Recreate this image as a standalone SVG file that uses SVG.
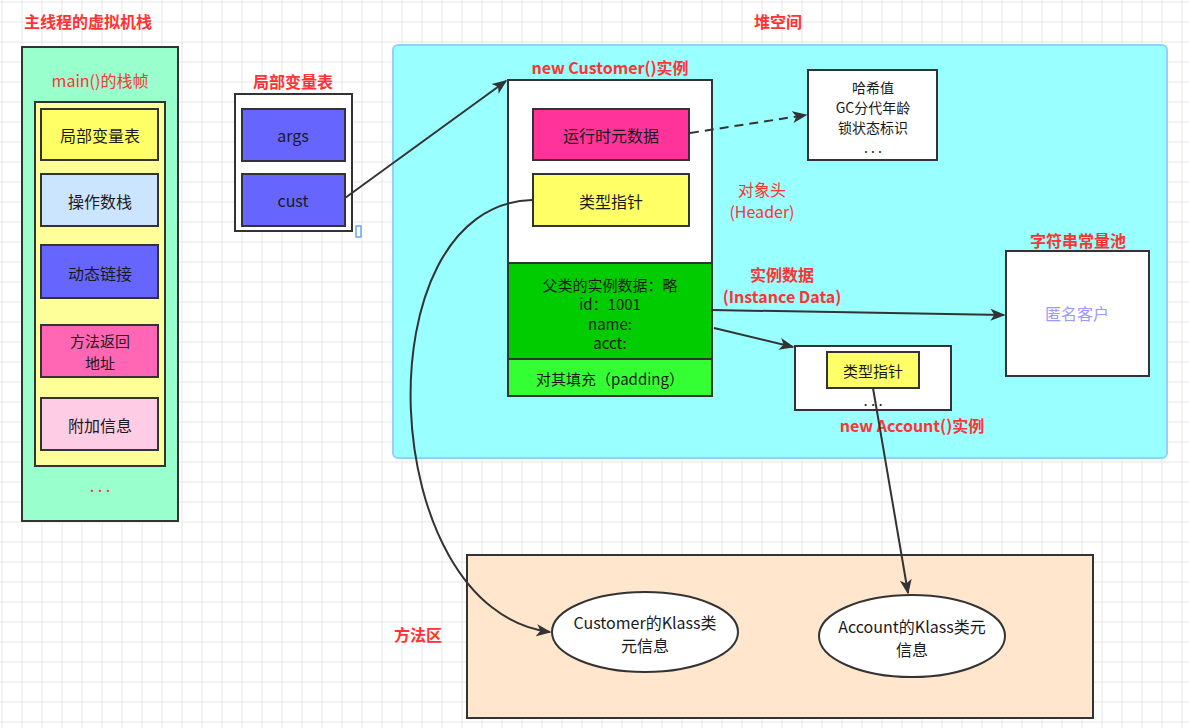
<svg xmlns="http://www.w3.org/2000/svg" width="1189" height="728" viewBox="0 0 1189 728">
<defs>
<pattern id="grid" width="20" height="20" patternUnits="userSpaceOnUse" x="1.5" y="1.5">
<path d="M0,0.5 H20 M0.5,0 V20" fill="none" stroke="#e6e6e6" stroke-width="1"/>
</pattern>
<marker id="arrL" viewBox="0 0 10 10" refX="9" refY="5" markerWidth="15" markerHeight="15" markerUnits="userSpaceOnUse" orient="auto">
<path d="M0,1 L10,5 L0,9 L2.5,5 Z" fill="#333"/>
</marker>
</defs>
<style>
.b{stroke:#333;stroke-width:2}
.t{font-family:"Noto Sans CJK SC","Liberation Sans",sans-serif;font-size:16px;fill:#1a1a1a;text-anchor:middle;dominant-baseline:central}
.s{font-size:15px}
.xs{font-size:14px}
.r{font-family:"Noto Sans CJK SC","Liberation Sans",sans-serif;font-size:16px;fill:#FF3333;text-anchor:middle;dominant-baseline:central;font-weight:bold}
.rn{font-family:"Noto Sans CJK SC","Liberation Sans",sans-serif;font-size:16px;fill:#FF3333;text-anchor:middle;dominant-baseline:central}
.c{fill:none;stroke:#333;stroke-width:2}
</style>
<rect width="1189" height="728" fill="#ffffff"/>
<rect width="1189" height="728" fill="url(#grid)"/>

<text class="r" x="88" y="21">主线程的虚拟机栈</text>
<text class="r" x="778" y="21">堆空间</text>

<g id="stack">
<rect x="22" y="47" width="156" height="474" fill="#99FFCC" class="b"/>
<text class="rn" x="100" y="80">main()的栈帧</text>
<rect x="35" y="102" width="130" height="364" fill="#FFFF99" class="b"/>
<text class="rn" x="100" y="485">. . .</text>
</g>
<g id="lvt"><rect x="41" y="109" width="117" height="51" fill="#FFFF66" class="b"/><text class="t" x="100" y="135">局部变量表</text></g>
<g id="opstack"><rect x="41" y="174" width="117" height="52" fill="#CCE5FF" class="b"/><text class="t" x="100" y="201">操作数栈</text></g>
<g id="dynlink"><rect x="41" y="245" width="117" height="53" fill="#6666FF" class="b"/><text class="t" x="100" y="273">动态链接</text></g>
<g id="retaddr"><rect x="41" y="325" width="117" height="52" fill="#FF66B3" class="b"/><text class="t s" x="100" y="340">方法返回</text><text class="t s" x="100" y="362">地址</text></g>
<g id="extra"><rect x="41" y="398" width="117" height="52" fill="#FFCCE6" class="b"/><text class="t" x="100" y="425">附加信息</text></g>

<g id="localvars">
<text class="r" x="293" y="81">局部变量表</text>
<rect x="235" y="94" width="117" height="137" fill="#ffffff" class="b"/>
<rect x="242" y="109" width="103" height="52" fill="#6666FF" class="b"/>
<text class="t" x="293" y="135">args</text>
<rect x="242" y="174" width="103" height="52" fill="#6666FF" class="b"/>
<text class="t" x="293" y="200">cust</text>
<rect x="356" y="226" width="5" height="11" fill="none" stroke="#6aa8e8" stroke-width="1.5"/>
</g>

<g id="heap">
<rect x="393" y="45" width="774" height="413" rx="5" fill="#99FFFF" stroke="#99CCFF" stroke-width="2"/>
</g>

<g id="customer">
<text class="r" x="610" y="67">new Customer()实例</text>
<rect x="508" y="80" width="204" height="183" fill="#ffffff" class="b"/>
<rect x="533" y="109" width="156" height="51" fill="#FF3399" class="b"/>
<text class="t" x="611" y="135">运行时元数据</text>
<rect x="533" y="174" width="156" height="52" fill="#FFFF66" class="b"/>
<text class="t" x="611" y="201">类型指针</text>
<rect x="508" y="263" width="204" height="96" fill="#00CC00" class="b"/>
<text class="t s" x="610" y="284">父类的实例数据：略</text>
<text class="t s" x="610" y="303">id：1001</text>
<text class="t s" x="610" y="323">name:</text>
<text class="t s" x="610" y="342">acct:</text>
<rect x="508" y="359" width="204" height="37" fill="#33FF33" class="b"/>
<text class="t s" x="610" y="378">对其填充（padding）</text>
<text class="rn s" x="762" y="189">对象头</text>
<text class="rn s" x="762" y="211">(Header)</text>
<text class="r s" x="782" y="274">实例数据</text>
<text class="r s" x="782" y="296">(Instance Data)</text>
</g>

<g id="markword">
<rect x="808" y="70" width="129" height="90" fill="#ffffff" class="b"/>
<text class="t xs" x="873" y="87">哈希值</text>
<text class="t xs" x="873" y="107">GC分代年龄</text>
<text class="t xs" x="873" y="127">锁状态标识</text>
<text class="t xs" x="873" y="147">. . .</text>
</g>

<g id="strpool">
<text class="r" x="1078" y="240">字符串常量池</text>
<rect x="1006" y="251" width="143" height="125" fill="#ffffff" class="b"/>
<text class="t" x="1077" y="313" style="fill:#9999FF">匿名客户</text>
</g>

<g id="account">
<rect x="795" y="346" width="156" height="64" fill="#ffffff" class="b"/>
<rect x="827" y="352" width="92" height="36" fill="#FFFF66" class="b"/>
<text class="t s" x="873" y="370">类型指针</text>
<text class="t s" x="873" y="399">. . .</text>
<text class="r" x="912" y="425">new Account()实例</text>
</g>

<g id="methodarea">
<rect x="467" y="555" width="626" height="163" fill="#FFE6CC" class="b"/>
<text class="r" x="418" y="634">方法区</text>
</g>
<g id="customerKlass">
<ellipse cx="645" cy="632" rx="93" ry="40" fill="#ffffff" class="b"/>
<text class="t" x="645" y="622">Customer的Klass类</text>
<text class="t" x="645" y="645">元信息</text>
</g>
<g id="accountKlass">
<ellipse cx="912" cy="636" rx="93" ry="41" fill="#ffffff" class="b"/>
<text class="t" x="912" y="626">Account的Klass类元</text>
<text class="t" x="912" y="649">信息</text>
</g>

<g id="connectors">
<path class="c" d="M345,198 L506,81" marker-end="url(#arrL)"/>
<path class="c" d="M690,133 L806,115" stroke-dasharray="9,6" marker-end="url(#arrL)"/>
<path class="c" d="M712,310 L1004,315" marker-end="url(#arrL)"/>
<path class="c" d="M714,328 L793,347" marker-end="url(#arrL)"/>
<path class="c" d="M873,388 L908,593" marker-end="url(#arrL)"/>
<path class="c" d="M532,200 C360,205 375,610 550,632" marker-end="url(#arrL)"/>
</g>
</svg>
